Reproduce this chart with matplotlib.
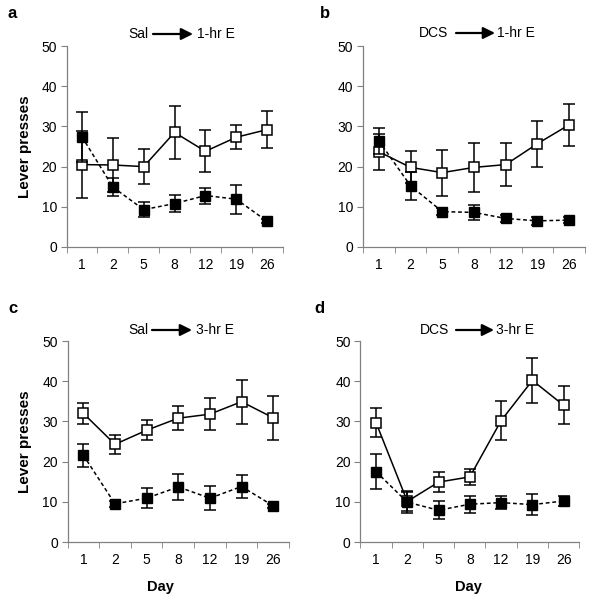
import numpy as np
import matplotlib
matplotlib.use("Agg")
import matplotlib.pyplot as plt

plt.rcParams['font.family'] = ['Liberation Sans', 'DejaVu Sans']

days = ['1', '2', '5', '8', '12', '19', '26']

# panel a: Sal -> 1-hr E
a_open = [20.5, 20.4, 20.0, 28.5, 23.8, 27.3, 29.2]
a_open_err = [8.3, 6.6, 4.3, 6.6, 5.2, 3.0, 4.6]
a_fill = [27.4, 14.9, 9.3, 10.8, 12.8, 11.9, 6.4]
a_fill_err = [6.2, 2.2, 1.8, 2.2, 2.0, 3.6, 0.5]

# panel b: DCS -> 1-hr E
b_open = [23.7, 19.8, 18.5, 19.8, 20.5, 25.7, 30.4]
b_open_err = [4.5, 4.0, 5.7, 6.0, 5.4, 5.7, 5.2]
b_fill = [26.4, 15.2, 8.8, 8.6, 7.1, 6.5, 6.7]
b_fill_err = [3.3, 3.5, 0.8, 1.8, 0.8, 1.0, 0.7]

# panel c: Sal -> 3-hr E
c_open = [32.0, 24.3, 27.8, 30.8, 31.8, 34.9, 30.9]
c_open_err = [2.7, 2.3, 2.5, 3.0, 4.0, 5.5, 5.5]
c_fill = [21.6, 9.5, 10.9, 13.7, 10.9, 13.8, 9.0]
c_fill_err = [2.9, 0.8, 2.5, 3.2, 3.0, 2.9, 0.5]

# panel d: DCS -> 3-hr E
d_open = [29.7, 10.1, 14.9, 16.2, 30.2, 40.2, 34.0]
d_open_err = [3.6, 2.5, 2.4, 2.0, 4.9, 5.6, 4.7]
d_fill = [17.5, 9.9, 7.9, 9.4, 9.8, 9.3, 10.2]
d_fill_err = [4.4, 2.6, 2.2, 2.1, 1.6, 2.6, 1.2]

W, H = 592, 599
fig = plt.figure(figsize=(W / 100, H / 100), dpi=100)

def px_axes(left, right, top, bottom):
    return fig.add_axes([left / W, 1 - bottom / H, (right - left) / W, (bottom - top) / H])

gray = '#808080'

def panel(ax, yo, eo, yf, ef, ylabel):
    x = np.arange(len(days))
    ax.errorbar(x, yo, yerr=eo, color='black', lw=1.1, ls='-', marker='s', ms=7.8,
                mfc='white', mec='black', mew=1.1, capsize=4, elinewidth=1.1, capthick=1.1, zorder=3)
    ax.errorbar(x, yf, yerr=ef, color='black', lw=1.1, ls=(0, (2.5, 1.8)), marker='s', ms=7.8,
                mfc='black', mec='black', capsize=4, elinewidth=1.1, capthick=1.1, zorder=4)
    ax.set_xlim(-0.5, len(days) - 0.5)
    ax.set_ylim(0, 50)
    ax.set_yticks([0, 10, 20, 30, 40, 50])
    ax.set_xticks(x)
    ax.set_xticklabels(days)
    ax.set_xticks(np.arange(-0.5, len(days)), minor=True)
    ax.tick_params(axis='x', which='major', length=0, pad=8, labelsize=10)
    ax.tick_params(axis='x', which='minor', length=4, color=gray, direction='out')
    ax.tick_params(axis='y', length=4, color=gray, labelsize=10, pad=3)
    for s in ['top', 'right']:
        ax.spines[s].set_visible(False)
    for s in ['left', 'bottom']:
        ax.spines[s].set_color(gray)
        ax.spines[s].set_linewidth(0.9)
    if ylabel:
        ax.set_ylabel('Lever presses', fontsize=11, fontweight='bold', labelpad=7)

ax_a = px_axes(66.6, 282.5, 46, 247)
ax_b = px_axes(363, 585, 46, 247)
ax_c = px_axes(67.5, 289, 341, 542)
ax_d = px_axes(360.4, 579.3, 341, 542)

panel(ax_a, a_open, a_open_err, a_fill, a_fill_err, True)
panel(ax_b, b_open, b_open_err, b_fill, b_fill_err, False)
panel(ax_c, c_open, c_open_err, c_fill, c_fill_err, True)
panel(ax_d, d_open, d_open_err, d_fill, d_fill_err, False)

def fx(p):
    return p / W

def fy(p):
    return 1 - p / H

# panel letters
for lab, px, py in [('a', 8, 14), ('b', 320, 14), ('c', 8, 308), ('d', 314, 308)]:
    fig.text(fx(px), fy(py), lab, fontsize=12, fontweight='bold', va='center', ha='left')

# treatment headers
for left_txt, right_txt, x1, a0, a1, x2, py in [
        ('Sal', '1-hr E', 148, 153, 193, 197, 34),
        ('DCS', '1-hr E', 448, 456, 495, 497, 33),
        ('Sal', '3-hr E', 148, 152, 192, 196, 330),
        ('DCS', '3-hr E', 449, 456, 494, 496, 330)]:
    fig.text(fx(x1), fy(py), left_txt, fontsize=10, ha='right', va='center')
    fig.text(fx(x2), fy(py), right_txt, fontsize=10, ha='left', va='center')
    fig.add_artist(matplotlib.patches.FancyArrowPatch(
        (fx(a0), fy(py)), (fx(a1), fy(py)), transform=fig.transFigure,
        arrowstyle='-|>,head_length=7,head_width=3.5', color='black', lw=1.6,
        shrinkA=0, shrinkB=0))

fig.text(fx(160), fy(587), 'Day', fontsize=10.5, fontweight='bold', ha='center', va='center')
fig.text(fx(468), fy(587), 'Day', fontsize=10.5, fontweight='bold', ha='center', va='center')

fig.savefig('out.png', dpi=100)
